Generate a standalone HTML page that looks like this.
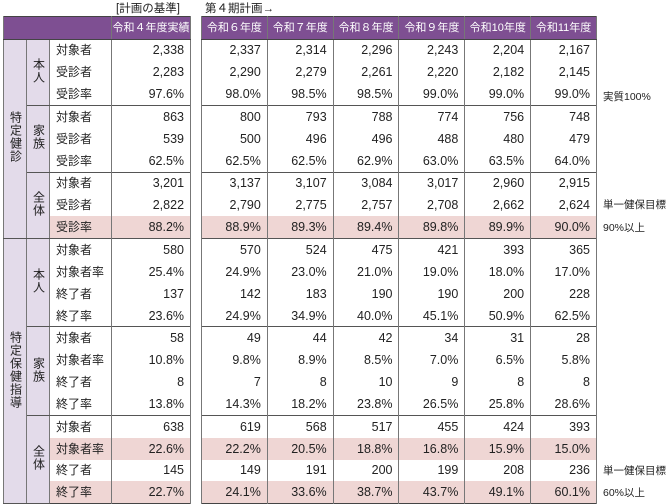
<!DOCTYPE html>
<html><head><meta charset="utf-8">
<style>
body{margin:0;width:668px;height:504px;background:#fff;position:relative;overflow:hidden;font-family:"Liberation Sans","Noto Sans CJK JP",sans-serif;font-size:12px;color:#222}
table{position:absolute;top:16px;border-collapse:collapse;table-layout:fixed;border:1.5px solid #444}
td,th{padding:0 6px;height:21.85px;line-height:14px;white-space:nowrap;overflow:hidden;border-left:1px solid #777;border-right:1px solid #777}
td.n{text-align:right;font-size:12.5px}
th{background:#7e4f92;color:#fff;font-weight:normal;text-align:center;height:21.5px;padding:0;font-size:11px;border-bottom:1.5px solid #444}
td.g{background:#e3dbea;text-align:center;padding:0;vertical-align:middle;line-height:13px;border-bottom:1.5px solid #555}
.v{writing-mode:vertical-rl;text-orientation:upright;display:inline-block;letter-spacing:1px}
tr.s td{border-top:1.5px solid #555}
tr.p td:not(.g){background:#efd6d4}
.note{position:absolute;left:603px;font-size:10.5px;white-space:nowrap}
.cap{position:absolute;top:0;font-size:11.5px}
</style></head><body>
<div class="cap" style="left:116px">[計画の基準]</div>
<div class="cap" style="left:205px">第４期計画→</div>
<table style="left:3px;width:187px">
<colgroup><col style="width:23px"><col style="width:23px"><col style="width:62px"><col style="width:79px"></colgroup>
<tr><th colspan="3"></th><th>令和４年度実績</th></tr>
<tr class="s"><td class="g" rowspan="9"><span class="v">特定健診</span></td><td class="g" rowspan="3"><span class="v">本人</span></td><td>対象者</td><td class="n">2,338</td></tr>
<tr><td>受診者</td><td class="n">2,283</td></tr>
<tr><td>受診率</td><td class="n">97.6%</td></tr>
<tr class="s"><td class="g" rowspan="3"><span class="v">家族</span></td><td>対象者</td><td class="n">863</td></tr>
<tr><td>受診者</td><td class="n">539</td></tr>
<tr><td>受診率</td><td class="n">62.5%</td></tr>
<tr class="s"><td class="g" rowspan="3"><span class="v">全体</span></td><td>対象者</td><td class="n">3,201</td></tr>
<tr><td>受診者</td><td class="n">2,822</td></tr>
<tr class="p"><td>受診率</td><td class="n">88.2%</td></tr>
<tr class="s"><td class="g" rowspan="12"><span class="v">特定保健指導</span></td><td class="g" rowspan="4"><span class="v">本人</span></td><td>対象者</td><td class="n">580</td></tr>
<tr><td>対象者率</td><td class="n">25.4%</td></tr>
<tr><td>終了者</td><td class="n">137</td></tr>
<tr><td>終了率</td><td class="n">23.6%</td></tr>
<tr class="s"><td class="g" rowspan="4"><span class="v">家族</span></td><td>対象者</td><td class="n">58</td></tr>
<tr><td>対象者率</td><td class="n">10.8%</td></tr>
<tr><td>終了者</td><td class="n">8</td></tr>
<tr><td>終了率</td><td class="n">13.8%</td></tr>
<tr class="s"><td class="g" rowspan="4"><span class="v">全体</span></td><td>対象者</td><td class="n">638</td></tr>
<tr class="p"><td>対象者率</td><td class="n">22.6%</td></tr>
<tr><td>終了者</td><td class="n">145</td></tr>
<tr class="p"><td>終了率</td><td class="n">22.7%</td></tr>
</table>
<table style="left:201px;width:396px">
<colgroup><col><col><col><col><col><col></colgroup>
<tr><th>令和６年度</th><th>令和７年度</th><th>令和８年度</th><th>令和９年度</th><th>令和10年度</th><th>令和11年度</th></tr>
<tr class="s"><td class="n">2,337</td><td class="n">2,314</td><td class="n">2,296</td><td class="n">2,243</td><td class="n">2,204</td><td class="n">2,167</td></tr>
<tr><td class="n">2,290</td><td class="n">2,279</td><td class="n">2,261</td><td class="n">2,220</td><td class="n">2,182</td><td class="n">2,145</td></tr>
<tr><td class="n">98.0%</td><td class="n">98.5%</td><td class="n">98.5%</td><td class="n">99.0%</td><td class="n">99.0%</td><td class="n">99.0%</td></tr>
<tr class="s"><td class="n">800</td><td class="n">793</td><td class="n">788</td><td class="n">774</td><td class="n">756</td><td class="n">748</td></tr>
<tr><td class="n">500</td><td class="n">496</td><td class="n">496</td><td class="n">488</td><td class="n">480</td><td class="n">479</td></tr>
<tr><td class="n">62.5%</td><td class="n">62.5%</td><td class="n">62.9%</td><td class="n">63.0%</td><td class="n">63.5%</td><td class="n">64.0%</td></tr>
<tr class="s"><td class="n">3,137</td><td class="n">3,107</td><td class="n">3,084</td><td class="n">3,017</td><td class="n">2,960</td><td class="n">2,915</td></tr>
<tr><td class="n">2,790</td><td class="n">2,775</td><td class="n">2,757</td><td class="n">2,708</td><td class="n">2,662</td><td class="n">2,624</td></tr>
<tr class="p"><td class="n">88.9%</td><td class="n">89.3%</td><td class="n">89.4%</td><td class="n">89.8%</td><td class="n">89.9%</td><td class="n">90.0%</td></tr>
<tr class="s"><td class="n">570</td><td class="n">524</td><td class="n">475</td><td class="n">421</td><td class="n">393</td><td class="n">365</td></tr>
<tr><td class="n">24.9%</td><td class="n">23.0%</td><td class="n">21.0%</td><td class="n">19.0%</td><td class="n">18.0%</td><td class="n">17.0%</td></tr>
<tr><td class="n">142</td><td class="n">183</td><td class="n">190</td><td class="n">190</td><td class="n">200</td><td class="n">228</td></tr>
<tr><td class="n">24.9%</td><td class="n">34.9%</td><td class="n">40.0%</td><td class="n">45.1%</td><td class="n">50.9%</td><td class="n">62.5%</td></tr>
<tr class="s"><td class="n">49</td><td class="n">44</td><td class="n">42</td><td class="n">34</td><td class="n">31</td><td class="n">28</td></tr>
<tr><td class="n">9.8%</td><td class="n">8.9%</td><td class="n">8.5%</td><td class="n">7.0%</td><td class="n">6.5%</td><td class="n">5.8%</td></tr>
<tr><td class="n">7</td><td class="n">8</td><td class="n">10</td><td class="n">9</td><td class="n">8</td><td class="n">8</td></tr>
<tr><td class="n">14.3%</td><td class="n">18.2%</td><td class="n">23.8%</td><td class="n">26.5%</td><td class="n">25.8%</td><td class="n">28.6%</td></tr>
<tr class="s"><td class="n">619</td><td class="n">568</td><td class="n">517</td><td class="n">455</td><td class="n">424</td><td class="n">393</td></tr>
<tr class="p"><td class="n">22.2%</td><td class="n">20.5%</td><td class="n">18.8%</td><td class="n">16.8%</td><td class="n">15.9%</td><td class="n">15.0%</td></tr>
<tr><td class="n">149</td><td class="n">191</td><td class="n">200</td><td class="n">199</td><td class="n">208</td><td class="n">236</td></tr>
<tr class="p"><td class="n">24.1%</td><td class="n">33.6%</td><td class="n">38.7%</td><td class="n">43.7%</td><td class="n">49.1%</td><td class="n">60.1%</td></tr>
</table>
<div class="note" style="top:89px">実質100%</div>
<div class="note" style="top:197px">単一健保目標</div>
<div class="note" style="top:220px">90%以上</div>
<div class="note" style="top:463px">単一健保目標</div>
<div class="note" style="top:485px">60%以上</div>
</body></html>
